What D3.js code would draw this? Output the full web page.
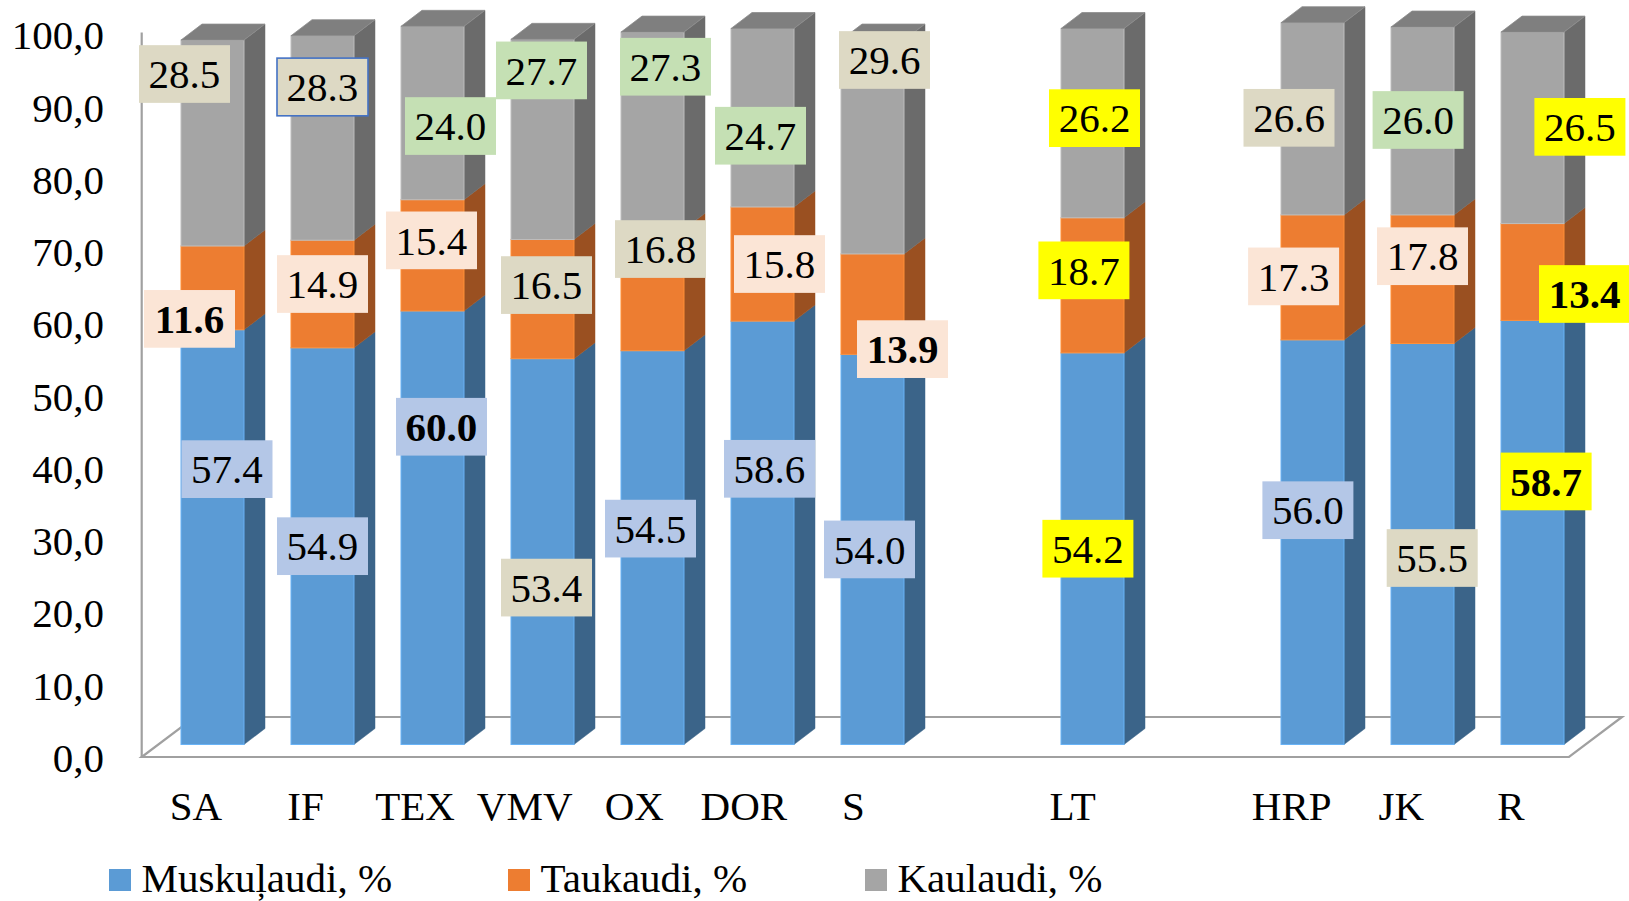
<!DOCTYPE html>
<html><head><meta charset="utf-8">
<script src="https://cdn.jsdelivr.net/npm/d3@7"></script>
<style>
html,body{margin:0;padding:0;background:#fff;}
svg{display:block;font-family:"Liberation Serif","Times New Roman",serif;}
</style></head>
<body><svg id="c" width="1629" height="901"></svg>
<script>
// ---------- data ----------
const categories = ["SA","IF","TEX","VMV","OX","DOR","S","LT","HRP","JK","R"];
const slots = ["SA","IF","TEX","VMV","OX","DOR","S","gap1","LT","gap2","HRP","JK","R"];
const seriesNames = ["Muskuļaudi, %","Taukaudi, %","Kaulaudi, %"];
const muscle = [57.4,54.9,60.0,53.4,54.5,58.6,54.0,54.2,56.0,55.5,58.7];
const fat    = [11.6,14.9,15.4,16.5,16.8,15.8,13.9,18.7,17.3,17.8,13.4];
const bone   = [28.5,28.3,24.0,27.7,27.3,24.7,29.6,26.2,26.6,26.0,26.5];
const yTicks = [0,10,20,30,40,50,60,70,80,90,100];

// ---------- label styling (backgrounds, bold, manual offsets) ----------
const BG = {b:"#b4c7e7", p:"#fbe5d6", t:"#ddd9c4", g:"#c5e0b4", y:"#ffff00"};
const muscleBg = ["b","b","b","t","b","b","b","y","b","t","y"];
const fatBg    = ["p","p","p","t","t","p","p","y","p","p","y"];
const boneBg   = ["t","t","g","g","g","g","t","y","t","g","y"];
const muscleBold = [0,0,1,0,0,0,0,0,0,0,1];
const fatBold    = [1,0,0,0,0,0,1,0,0,0,1];
const boneBold   = [0,0,0,0,0,0,0,0,0,0,0];
const muscleOff = [[14.5,-68],[0,0],[9,-101],[4,36],[-2,-19],[7,-64],[-3,0],[-4.6,0],[-4.6,-32],[9.7,14],[13.6,-51]];
const fatOff    = [[-23,31],[0,-10],[-1,-15],[4,-14],[8,-41],[17,0],[30,45],[-8.6,-15],[-18.9,-1],[0,-23],[52,22]];
const boneOff   = [[-28,-69],[0,-51],[18,13],[-1,-69],[13,-64],[-2,18],[12,-87],[2,-5],[-23.5,-1],[-4.4,-1],[47.4,-1]];

const seriesColors = [
  {front:"#5b9bd5", side:"#3b6489", top:"#4a7eae"},
  {front:"#ed7d31", side:"#9a5021", top:"#c46628"},
  {front:"#a5a5a5", side:"#6b6b6b", top:"#7f7f7f"}
];

const svg = d3.select("#c");
const FONT = 41;

const xBand = d3.scaleBand().domain(slots).range([157.5, 157.5 + 13*110]).paddingInner(0.4273).paddingOuter(0.2136);
const bw = xBand.bandwidth();
const DX = 21, DY = -16;    // 3D depth of bars
const FLOOR_DX = 53, FLOOR_DY = -40;

const yAxisScale = d3.scaleLinear().domain([0,100]).range([757, 34.5]);
const yBar = d3.scaleLinear().domain([0,100]).range([744.5, 22]);

const pts = a => a.map(p=>p.join(",")).join(" ");

// ---------- floor & wall edge ----------
const fl = 141.7, fr = 1569, fy = 757;
svg.append("polygon")
  .attr("points", pts([[fl,fy],[fr,fy],[fr+FLOOR_DX,fy+FLOOR_DY],[fl+FLOOR_DX,fy+FLOOR_DY]]))
  .attr("fill","#fff").attr("stroke","#a0a0a0").attr("stroke-width",2.2);
svg.append("line").attr("x1",fl).attr("x2",fl).attr("y1",yAxisScale(100)-2).attr("y2",fy)
  .attr("stroke","#a0a0a0").attr("stroke-width",2.2);

// ---------- y axis ----------
const yAxis = d3.axisLeft(yAxisScale).tickValues(yTicks).tickSize(0).tickPadding(0)
  .tickFormat(d => d3.format(".1f")(d).replace(".", ","));
const gy = svg.append("g").attr("transform","translate(104,0)").call(yAxis);
gy.select(".domain").remove();
gy.selectAll("text").attr("font-size",FONT).attr("font-family","Liberation Serif").attr("fill","#000").attr("dy","0.35em");

// ---------- bars ----------
const stacks = categories.map((c,i)=>{
  const vals=[muscle[i],fat[i],bone[i]];
  let acc=0;
  return vals.map((v,k)=>{const s={cat:c,i,k,v,y0:acc,y1:acc+v}; acc+=v; return s;});
});
const gBars = svg.append("g");
stacks.forEach(st=>{
  const x0 = xBand(st[0].cat), x1 = x0 + bw;
  const g = gBars.append("g");
  st.forEach((s,k)=>{
    const col = seriesColors[k];
    const yb = yBar(s.y0), yt = yBar(s.y1);
    g.append("polygon")
      .attr("points",pts([[x1,yb],[x1+DX,yb+DY],[x1+DX,yt+DY],[x1,yt]]))
      .attr("fill",col.side).attr("stroke",col.side).attr("stroke-width",0.5);
    g.append("rect").attr("x",x0).attr("y",yt).attr("width",bw).attr("height",yb-yt)
      .attr("fill",col.front).attr("stroke",d3.color(col.front).brighter(0.4)).attr("stroke-width",1);
    if(k===st.length-1){
      g.append("polygon")
        .attr("points",pts([[x0,yt],[x0+DX,yt+DY],[x1+DX,yt+DY],[x1,yt]]))
        .attr("fill",col.top).attr("stroke",d3.color(col.top).brighter(0.3)).attr("stroke-width",0.8);
    }
  });
});

// ---------- x labels (slight perspective shift towards the right) ----------
const gx = svg.append("g");
categories.forEach(c=>{
  const si = slots.indexOf(c);
  gx.append("text").attr("x",xBand(c) + bw/2 - 16.5 - 0.43*si).attr("y",820)
    .attr("text-anchor","middle").attr("font-size",FONT).attr("fill","#000").text(c);
});

// ---------- data labels ----------
const bgs=[muscleBg,fatBg,boneBg], bolds=[muscleBold,fatBold,boneBold], offs=[muscleOff,fatOff,boneOff];
const gL = svg.append("g");
stacks.forEach(st=>st.forEach(s=>{
  const k=s.k, i=s.i;
  const cx = xBand(s.cat) + bw/2 + offs[k][i][0];
  const cy = yBar((s.y0+s.y1)/2) + offs[k][i][1];
  const g = gL.append("g").attr("transform",`translate(${cx},${cy})`);
  const w=91, h=57.7;
  const bordered = (k===2 && s.cat==="IF");
  g.append("rect").attr("x",-w/2).attr("y",-h/2).attr("width",w).attr("height",h)
    .attr("fill",BG[bgs[k][i]])
    .attr("stroke",bordered?"#4472c4":"none").attr("stroke-width",bordered?1.6:0);
  g.append("text").attr("x",0).attr("y",14.2).attr("text-anchor","middle")
    .attr("font-size",FONT).attr("font-weight",bolds[k][i]?"bold":"normal").attr("fill","#000")
    .text(d3.format(".1f")(s.v));
}));

// ---------- legend ----------
const legendX = [109, 508, 865];
const gLeg = svg.append("g");
seriesNames.forEach((n,k)=>{
  gLeg.append("rect").attr("x",legendX[k]).attr("y",869).attr("width",22).attr("height",22).attr("fill",seriesColors[k].front);
  gLeg.append("text").attr("x",legendX[k]+32.5).attr("y",892).attr("font-size",FONT).attr("fill","#000").text(n);
});
</script>
</body></html>
